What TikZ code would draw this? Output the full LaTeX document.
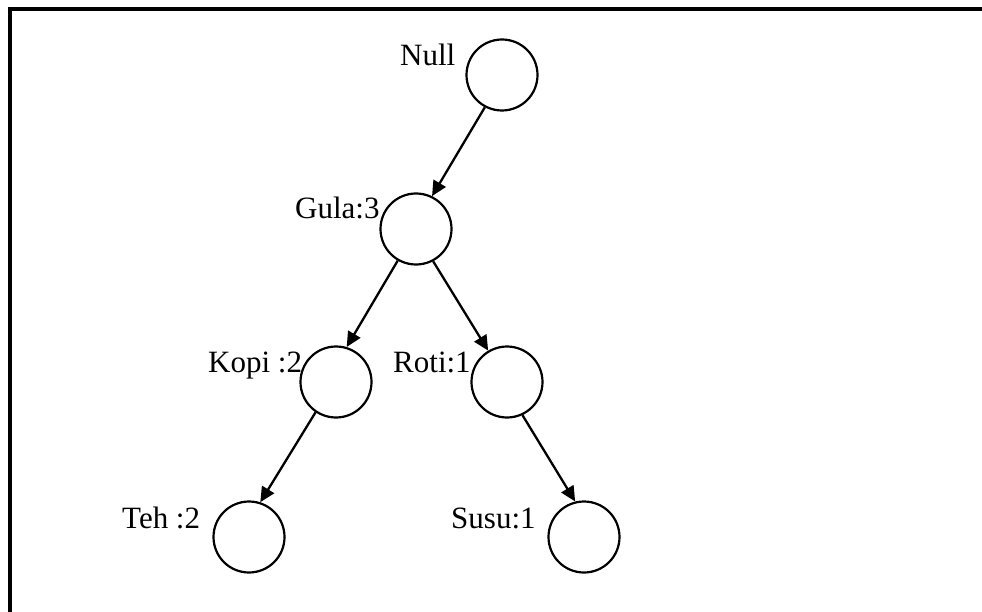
\documentclass[tikz,border=0pt]{standalone}
\usepackage{fontspec}
\setmainfont{Liberation Serif}
\usetikzlibrary{arrows.meta}
\begin{document}
\begin{tikzpicture}[x=1pt, y=-1pt,
  itemnode/.style={circle, draw, line width=2.2pt, minimum size=71pt, inner sep=0pt},
  itemlabel/.style={anchor=base west, inner sep=0pt, font=\fontsize{31}{31}\selectfont},
  link/.style={line width=2.3pt, -{Triangle[length=15pt, width=14pt]}}]
  \useasboundingbox (0,0) rectangle (982,612);
  \clip (0,0) rectangle (982,612);
  % outer frame (continues past the right and bottom edges)
  \draw[line width=4pt] (10,640) -- (10,9) -- (1010,9);

  % tree nodes
  \node[itemnode] (null) at (502,75) {};
  \node[itemnode] (gula) at (416,229) {};
  \node[itemnode] (kopi) at (336,382) {};
  \node[itemnode] (roti) at (507,382) {};
  \node[itemnode] (teh)  at (249,537) {};
  \node[itemnode] (susu) at (584,537) {};

  % item labels with support counts
  \node[itemlabel] (lnull) at (400,66)  {Null};
  \node[itemlabel] (lgula) at (295,219) {Gula:3};
  \node[itemlabel] (lkopi) at (208,372) {Kopi :2};
  \node[itemlabel] (lroti) at (393,372) {Roti:1};
  \node[itemlabel] (lteh)  at (122,528) {Teh :2};
  \node[itemlabel] (lsusu) at (451,528) {Susu:1};

  % parent-to-child links
  \draw[link] (null.242) -- (gula.64);
  \draw[link] (gula.240) -- (kopi.73);
  \draw[link] (gula.298) -- (roti.121);
  \draw[link] (kopi.236) -- (teh.72);
  \draw[link] (roti.295) -- (susu.104);
\end{tikzpicture}
\end{document}
